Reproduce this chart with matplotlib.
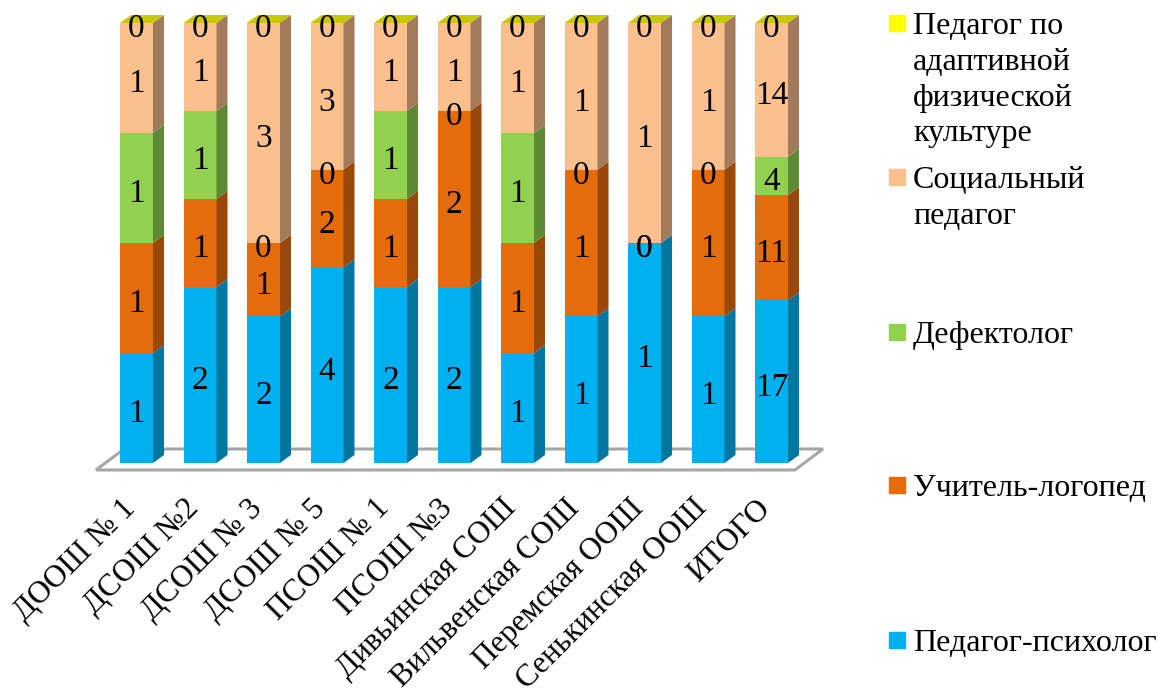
import matplotlib
matplotlib.use("Agg")
import matplotlib.pyplot as plt
import numpy as np

plt.rcParams["font.family"] = ["Liberation Serif", "DejaVu Serif"]

schools = ["ДООШ № 1", "ДСОШ №2", "ДСОШ № 3", "ДСОШ № 5", "ПСОШ № 1", "ПСОШ №3",
           "Дивьинская СОШ", "Вильвенская СОШ", "Перемская ООШ", "Сенькинская ООШ", "ИТОГО"]
psychologist = [1, 2, 2, 4, 2, 2, 1, 1, 1, 1, 17]
speech = [1, 1, 1, 2, 1, 2, 1, 1, 0, 1, 11]
defect = [1, 1, 0, 0, 1, 0, 1, 0, 0, 0, 4]
social = [1, 1, 3, 3, 1, 1, 1, 1, 1, 1, 14]
adaptive = [0, 0, 0, 0, 0, 0, 0, 0, 0, 0, 0]

series = [psychologist, speech, defect, social, adaptive]
colors = ["#00B0F0", "#E46C0A", "#92D050", "#FCC08F", "#FFFF00"]
sides = ["#0076A1", "#994807", "#5F8A35", "#A17B5C", "#A8A800"]
top_color = "#C8C800"

W, H = 1158, 690
# pixel layout of the plot: first bar centre, bar step, base and top of the bars
x0, step, y_base, y_top = 136.5, 63.5, 463, 23
per_pct = (y_base - y_top) / 100
bar_w = 33 / step
dx, dy = 11 / step, 8 / per_pct

fig = plt.figure(figsize=(W / 100, H / 100), dpi=100)
ax = fig.add_axes([0, 0, 1, 1])
ax.set_xlim(-x0 / step, (W - x0) / step)
ax.set_ylim(-(H - y_base) / per_pct, y_base / per_pct)
ax.axis("off")

# floor
fx0, fx1 = (96 - x0) / step, (795 - x0) / step
fy0 = -7 / per_pct
fdx, fdy = 28 / step, 21 / per_pct
ax.fill([fx0, fx1, fx1 + fdx, fx0 + fdx], [fy0, fy0, fy0 + fdy, fy0 + fdy],
        facecolor="white", edgecolor="#A6A6A6", lw=2.2, zorder=1)

vals = np.array(series, dtype=float)
pct = vals / vals.sum(axis=0) * 100
bottoms = np.vstack([np.zeros(len(schools)), np.cumsum(pct, axis=0)[:-1]])
xs = np.arange(len(schools))

for k in range(len(series)):
    ax.bar(xs, pct[k], bar_w, bottom=bottoms[k], color=colors[k], zorder=3)
    for i in xs:
        b, t = bottoms[k][i], bottoms[k][i] + pct[k][i]
        r = i + bar_w / 2
        ax.fill([r, r + dx, r + dx, r], [b, b + dy, t + dy, t], color=sides[k], lw=0, zorder=3)
        ax.text(i, (b + t) / 2 - 0.6, "%d" % vals[k][i],
                ha="center", va="center_baseline", fontsize=24, color="black", zorder=5)

for i in xs:
    l, r = i - bar_w / 2, i + bar_w / 2
    ax.fill([l, r, r + dx, l + dx], [100, 100, 100 + dy, 100 + dy], color=top_color, lw=0, zorder=3)
    ax.text(i - 0.25, -7, schools[i], rotation=45, rotation_mode="anchor",
            ha="right", va="top", fontsize=22.5)

# legend
legend_labels = ["Педагог по\nадаптивной\nфизической\nкультуре", "Социальный\nпедагог",
                 "Дефектолог", "Учитель-логопед", "Педагог-психолог"]
legend_colors = ["#FFFF00", "#FCC08F", "#92D050", "#E46C0A", "#00B0F0"]
legend_y = [23, 177, 332, 485, 640]
for lab, c, y in zip(legend_labels, legend_colors, legend_y):
    fig.patches.append(plt.Rectangle((889 / W, 1 - (y + 8) / H), 16 / W, 16 / H, color=c,
                                     transform=fig.transFigure))
    fig.text(913 / W, 1 - (y - 11) / H, lab, ha="left", va="top", fontsize=23, linespacing=1.31)

fig.savefig("out.png", dpi=100)
